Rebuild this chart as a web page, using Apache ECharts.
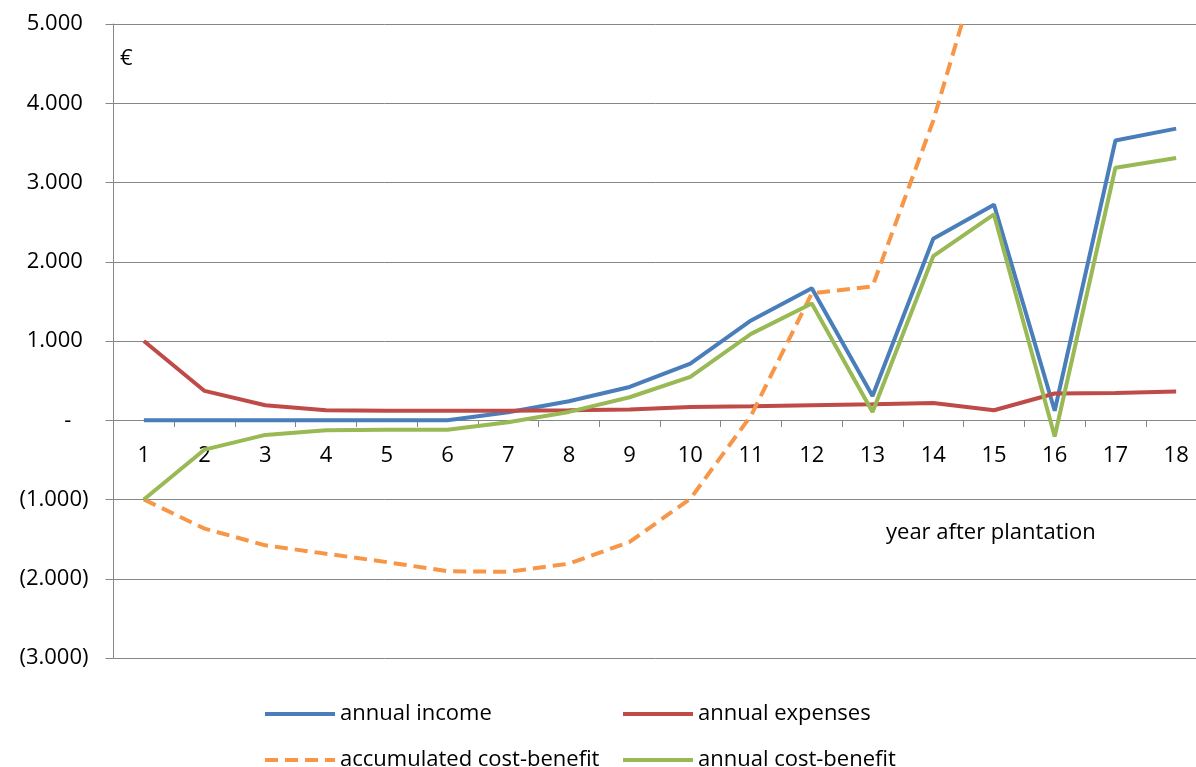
<!DOCTYPE html>
<html>
<head>
<meta charset="utf-8">
<script src="https://cdn.jsdelivr.net/npm/echarts@6/dist/echarts.min.js"></script>
<style>
html,body{margin:0;padding:0;background:#fff;}
#chart{width:1196px;height:767px;}
</style>
</head>
<body>
<div id="chart"></div>
<script>
var years = ['1','2','3','4','5','6','7','8','9','10','11','12','13','14','15','16','17','18'];
var annualIncome = [0,0,0,0,0,0,100,240,420,715,1260,1665,305,2290,2720,120,3530,3680];
var annualExpenses = [1000,370,190,125,120,120,120,126,135,168,177,190,202,219,126,337,345,362];
var accumulatedCB = [-1000,-1368,-1578,-1684,-1790,-1905,-1912,-1810,-1536,-990,60,1600,1690,3780,6380,6170,9360,12670];
var annualCB = [-1000,-370,-185,-125,-120,-120,-25,105,290,547,1090,1473,103,2070,2597,-205,3186,3310];
var seriesNames = ['annual income','annual expenses','accumulated cost-benefit','annual cost-benefit'];

var FONT = '"Open Sans", sans-serif';
var GRAY = '#868686';
var SOLID_ICON = 'path://M0,0h70v4h-70z';
var DASH_ICON = 'path://M0,0h13v4h-13z M20,0h13v4h-13z M40,0h13v4h-13z M60,0h10v4h-10z';

function fmt(n){
  return String(Math.round(n)).replace(/\B(?=(\d{3})+(?!\d))/g, '.');
}

var chart = echarts.init(document.getElementById('chart'));
var lineBase = {type:'line', symbol:'none', showSymbol:false, smooth:false, animation:false};

function legendAt(name, icon, left, top){
  return {data:[{name:name, icon:icon}], left:left, top:top, itemWidth:70, itemHeight:4, itemGap:0,
    textStyle:{fontSize:22, color:'#000', fontFamily:FONT}};
}

chart.setOption({
  animation:false,
  textStyle:{fontFamily:FONT},
  grid:{left:113.5, top:24, width:1093, height:634, containLabel:false, outerBoundsMode:'none'},
  xAxis:{
    type:'category', data:years, boundaryGap:true, offset:-238,
    axisLine:{show:true, onZero:false, lineStyle:{color:GRAY, width:1}},
    axisTick:{show:true, length:7, inside:false, lineStyle:{color:GRAY}},
    axisLabel:{color:'#000', fontSize:22, fontFamily:FONT, margin:25},
    splitLine:{show:false}
  },
  yAxis:{
    type:'value', min:-3000, max:5000, interval:1000,
    axisLine:{show:true, lineStyle:{color:GRAY, width:1}},
    axisTick:{show:true, length:8, lineStyle:{color:GRAY}},
    splitLine:{show:true, lineStyle:{color:GRAY, width:1}},
    axisLabel:{color:'#000', fontSize:22, fontFamily:FONT, margin:25,
      formatter:function(v){
        if (v === 0) return '-   ';
        if (v < 0) return '(' + fmt(-v) + ')';
        return fmt(v) + ' ';
      }}
  },
  legend:[
    legendAt(seriesNames[0], SOLID_ICON, 260, 698),
    legendAt(seriesNames[1], SOLID_ICON, 618, 698),
    legendAt(seriesNames[2], DASH_ICON, 260, 744),
    legendAt(seriesNames[3], SOLID_ICON, 618, 744)
  ],
  graphic:[
    {type:'text', left:120, top:48, style:{text:'€', fontSize:22, fontFamily:FONT, fill:'#000'}},
    {type:'text', left:886, top:522, style:{text:'year after plantation', fontSize:22, fontFamily:FONT, fill:'#000'}}
  ],
  series:[
    Object.assign({}, lineBase, {name:seriesNames[0], data:annualIncome, color:'#4A7EBB',
      lineStyle:{color:'#4A7EBB', width:4}}),
    Object.assign({}, lineBase, {name:seriesNames[1], data:annualExpenses, color:'#BE4B48',
      lineStyle:{color:'#BE4B48', width:4}}),
    Object.assign({}, lineBase, {name:seriesNames[2], data:accumulatedCB, color:'#F79646',
      lineStyle:{color:'#F79646', width:4, type:[13,7]}}),
    Object.assign({}, lineBase, {name:seriesNames[3], data:annualCB, color:'#98B954',
      lineStyle:{color:'#98B954', width:4}})
  ]
});
</script>
</body>
</html>
